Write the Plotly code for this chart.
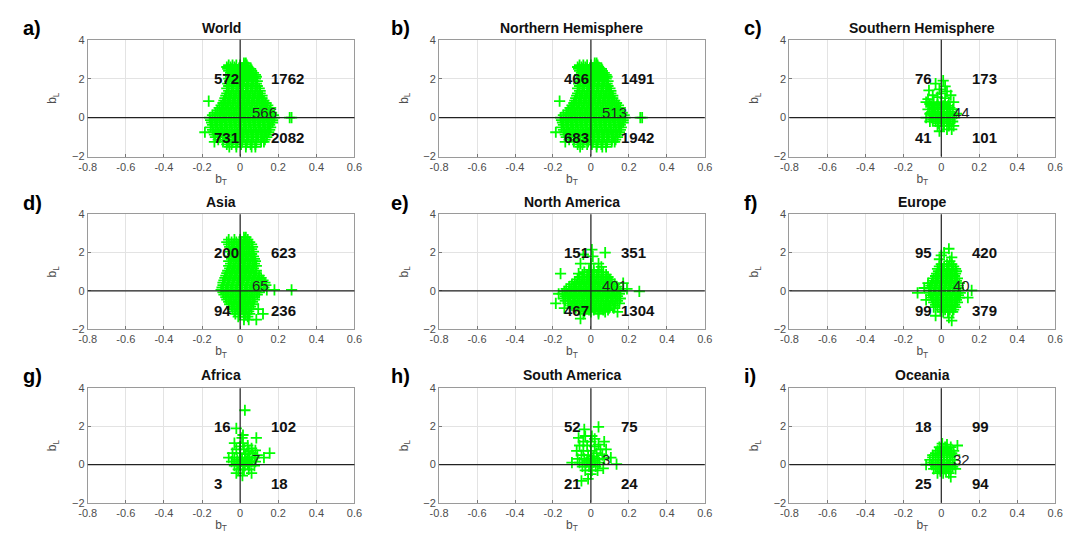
import plotly.graph_objects as go

# ---------------- data ----------------
regions = ["World", "Northern Hemisphere", "Southern Hemisphere",
           "Asia", "North America", "Europe",
           "Africa", "South America", "Oceania"]
letters = ["a)", "b)", "c)", "d)", "e)", "f)", "g)", "h)", "i)"]

# quadrant counts: [upper-left, upper-right, lower-left, lower-right, centre]
counts_world = [572, 1762, 731, 2082, 566]
counts_nh = [466, 1491, 683, 1942, 513]
counts_sh = [76, 173, 41, 101, 44]
counts_asia = [200, 623, 94, 236, 65]
counts_na = [151, 351, 467, 1304, 401]
counts_eu = [95, 420, 99, 379, 40]
counts_af = [16, 102, 3, 18, 7]
counts_sa = [52, 75, 21, 24, 3]
counts_oc = [18, 99, 25, 94, 32]

x_ticks = [-0.8, -0.6, -0.4, -0.2, 0, 0.2, 0.4, 0.6]
x_tick_text = ["-0.8", "-0.6", "-0.4", "-0.2", "0", "0.2", "0.4", "0.6"]
y_ticks = [-2, 0, 2, 4]

# scatter clouds: (b_L, [b_T values])
world_rows = [
    (2.8, [0.02, 0.03]),
    (2.7, [-0.06, -0.04, -0.02, 0.0, 0.02, 0.035]),
    (2.6, [-0.07, -0.05, -0.03, 0.0, 0.02, 0.04]),
    (2.5, [-0.065, -0.045, -0.025, -0.005, 0.015, 0.035, 0.055]),
    (2.4, [-0.06, -0.04, -0.02, 0.0, 0.02, 0.04, 0.06]),
    (2.3, [-0.05, -0.03, -0.01, 0.01, 0.03, 0.05, 0.07]),
    (2.2, [-0.06, -0.04, -0.02, 0.0, 0.02, 0.04, 0.06, 0.08]),
    (2.1, [-0.05, -0.03, -0.01, 0.01, 0.03, 0.05, 0.07, 0.085]),
    (2.0, [-0.06, -0.04, -0.02, 0.0, 0.02, 0.04, 0.06, 0.08]),
    (1.875, [-0.055, -0.03, -0.005, 0.02, 0.045, 0.07, 0.09]),
    (1.75, [-0.065, -0.04, -0.015, 0.01, 0.035, 0.06, 0.085]),
    (1.625, [-0.06, -0.035, -0.01, 0.015, 0.04, 0.065, 0.09]),
    (1.5, [-0.07, -0.045, -0.02, 0.005, 0.03, 0.055, 0.08, 0.1]),
    (1.375, [-0.06, -0.035, -0.01, 0.015, 0.04, 0.065, 0.09, 0.105]),
    (1.25, [-0.07, -0.045, -0.02, 0.005, 0.03, 0.055, 0.08, 0.105]),
    (1.125, [-0.075, -0.05, -0.025, 0.0, 0.025, 0.05, 0.075, 0.1, 0.115]),
    (1.0, [-0.08, -0.055, -0.03, -0.005, 0.02, 0.045, 0.07, 0.095, 0.115]),
    (0.875, [-0.085, -0.06, -0.035, -0.01, 0.015, 0.04, 0.065, 0.09, 0.115, 0.125]),
    (0.75, [-0.09, -0.065, -0.04, -0.015, 0.01, 0.035, 0.06, 0.085, 0.11, 0.135]),
    (0.625, [-0.1, -0.075, -0.05, -0.025, 0.0, 0.025, 0.05, 0.075, 0.1, 0.125, 0.145]),
    (0.5, [-0.11, -0.085, -0.06, -0.035, -0.01, 0.015, 0.04, 0.065, 0.09, 0.115, 0.14, 0.16]),
    (0.375, [-0.12, -0.095, -0.07, -0.045, -0.02, 0.005, 0.03, 0.055, 0.08, 0.105, 0.13, 0.155]),
    (0.25, [-0.13, -0.105, -0.08, -0.055, -0.03, -0.005, 0.02, 0.045, 0.07, 0.095, 0.12, 0.145, 0.165]),
    (0.125, [-0.145, -0.12, -0.095, -0.07, -0.045, -0.02, 0.005, 0.03, 0.055, 0.08, 0.105, 0.13, 0.155, 0.175]),
    (0.0, [-0.16, -0.135, -0.11, -0.085, -0.06, -0.035, -0.01, 0.015, 0.04, 0.065, 0.09, 0.115, 0.14, 0.165, 0.18, 0.26, 0.27]),
    (-0.125, [-0.155, -0.13, -0.105, -0.08, -0.055, -0.03, -0.005, 0.02, 0.045, 0.07, 0.095, 0.12, 0.145, 0.17]),
    (-0.25, [-0.15, -0.125, -0.1, -0.075, -0.05, -0.025, 0.0, 0.025, 0.05, 0.075, 0.1, 0.125, 0.15, 0.17]),
    (-0.375, [-0.145, -0.12, -0.095, -0.07, -0.045, -0.02, 0.005, 0.03, 0.055, 0.08, 0.105, 0.13, 0.155]),
    (-0.5, [-0.155, -0.13, -0.105, -0.08, -0.055, -0.03, -0.005, 0.02, 0.045, 0.07, 0.095, 0.12, 0.145, 0.16]),
    (-0.625, [-0.145, -0.12, -0.095, -0.07, -0.045, -0.02, 0.005, 0.03, 0.055, 0.08, 0.105, 0.13, 0.155]),
    (-0.75, [-0.185, -0.14, -0.115, -0.09, -0.065, -0.04, -0.015, 0.01, 0.035, 0.06, 0.085, 0.11, 0.135, 0.15]),
    (-0.875, [-0.135, -0.11, -0.085, -0.06, -0.035, -0.01, 0.015, 0.04, 0.065, 0.09, 0.115, 0.14]),
    (-1.0, [-0.13, -0.105, -0.08, -0.055, -0.03, -0.005, 0.02, 0.045, 0.07, 0.095, 0.12, 0.14]),
    (-1.125, [-0.115, -0.09, -0.065, -0.04, -0.015, 0.01, 0.035, 0.06, 0.085, 0.11, 0.13]),
    (-1.25, [-0.135, -0.09, -0.065, -0.04, -0.015, 0.01, 0.035, 0.06, 0.085, 0.11, 0.125]),
    (-1.375, [-0.07, -0.045, -0.02, 0.005, 0.03, 0.055, 0.08]),
    (-1.5, [-0.057, -0.02, 0.03, 0.06, 0.08]),
    (0.85, [-0.165]),
]

nh_rows = [
    (2.8, [0.02, 0.03]),
    (2.7, [-0.06, -0.04, -0.02, 0.0, 0.02, 0.035]),
    (2.6, [-0.07, -0.05, -0.03, 0.0, 0.02, 0.04]),
    (2.5, [-0.065, -0.045, -0.025, -0.005, 0.015, 0.035, 0.055]),
    (2.4, [-0.06, -0.04, -0.02, 0.0, 0.02, 0.04, 0.06]),
    (2.3, [-0.05, -0.03, -0.01, 0.01, 0.03, 0.05, 0.07]),
    (2.2, [-0.06, -0.04, -0.02, 0.0, 0.02, 0.04, 0.06, 0.08]),
    (2.1, [-0.05, -0.03, -0.01, 0.01, 0.03, 0.05, 0.07, 0.085]),
    (2.0, [-0.06, -0.04, -0.02, 0.0, 0.02, 0.04, 0.06, 0.08]),
    (1.875, [-0.055, -0.03, -0.005, 0.02, 0.045, 0.07, 0.09]),
    (1.75, [-0.065, -0.04, -0.015, 0.01, 0.035, 0.06, 0.085]),
    (1.625, [-0.06, -0.035, -0.01, 0.015, 0.04, 0.065, 0.09]),
    (1.5, [-0.07, -0.045, -0.02, 0.005, 0.03, 0.055, 0.08, 0.1]),
    (1.375, [-0.06, -0.035, -0.01, 0.015, 0.04, 0.065, 0.09, 0.105]),
    (1.25, [-0.07, -0.045, -0.02, 0.005, 0.03, 0.055, 0.08, 0.105]),
    (1.125, [-0.075, -0.05, -0.025, 0.0, 0.025, 0.05, 0.075, 0.1, 0.115]),
    (1.0, [-0.08, -0.055, -0.03, -0.005, 0.02, 0.045, 0.07, 0.095, 0.115]),
    (0.875, [-0.085, -0.06, -0.035, -0.01, 0.015, 0.04, 0.065, 0.09, 0.115, 0.125]),
    (0.75, [-0.09, -0.065, -0.04, -0.015, 0.01, 0.035, 0.06, 0.085, 0.11, 0.135]),
    (0.625, [-0.1, -0.075, -0.05, -0.025, 0.0, 0.025, 0.05, 0.075, 0.1, 0.125, 0.145]),
    (0.5, [-0.11, -0.085, -0.06, -0.035, -0.01, 0.015, 0.04, 0.065, 0.09, 0.115, 0.14, 0.155]),
    (0.375, [-0.12, -0.095, -0.07, -0.045, -0.02, 0.005, 0.03, 0.055, 0.08, 0.105, 0.13, 0.15]),
    (0.25, [-0.13, -0.105, -0.08, -0.055, -0.03, -0.005, 0.02, 0.045, 0.07, 0.095, 0.12, 0.145, 0.165]),
    (0.125, [-0.145, -0.12, -0.095, -0.07, -0.045, -0.02, 0.005, 0.03, 0.055, 0.08, 0.105, 0.13, 0.155, 0.175]),
    (0.0, [-0.16, -0.135, -0.11, -0.085, -0.06, -0.035, -0.01, 0.015, 0.04, 0.065, 0.09, 0.115, 0.14, 0.165, 0.18, 0.26, 0.27]),
    (-0.125, [-0.155, -0.13, -0.105, -0.08, -0.055, -0.03, -0.005, 0.02, 0.045, 0.07, 0.095, 0.12, 0.145, 0.17]),
    (-0.25, [-0.15, -0.125, -0.1, -0.075, -0.05, -0.025, 0.0, 0.025, 0.05, 0.075, 0.1, 0.125, 0.15, 0.17]),
    (-0.375, [-0.145, -0.12, -0.095, -0.07, -0.045, -0.02, 0.005, 0.03, 0.055, 0.08, 0.105, 0.13, 0.155]),
    (-0.5, [-0.155, -0.13, -0.105, -0.08, -0.055, -0.03, -0.005, 0.02, 0.045, 0.07, 0.095, 0.12, 0.145, 0.16]),
    (-0.625, [-0.145, -0.12, -0.095, -0.07, -0.045, -0.02, 0.005, 0.03, 0.055, 0.08, 0.105, 0.13, 0.155]),
    (-0.75, [-0.185, -0.14, -0.115, -0.09, -0.065, -0.04, -0.015, 0.01, 0.035, 0.06, 0.085, 0.11, 0.135, 0.15]),
    (-0.875, [-0.135, -0.11, -0.085, -0.06, -0.035, -0.01, 0.015, 0.04, 0.065, 0.09, 0.115, 0.14]),
    (-1.0, [-0.13, -0.105, -0.08, -0.055, -0.03, -0.005, 0.02, 0.045, 0.07, 0.095, 0.12, 0.14]),
    (-1.125, [-0.115, -0.09, -0.065, -0.04, -0.015, 0.01, 0.035, 0.06, 0.085, 0.11, 0.13]),
    (-1.25, [-0.135, -0.09, -0.065, -0.04, -0.015, 0.01, 0.035, 0.06, 0.085, 0.11, 0.125]),
    (-1.375, [-0.07, -0.045, -0.02, 0.005, 0.03, 0.055, 0.08]),
    (-1.5, [-0.057, 0.03, 0.06, 0.08]),
    (0.85, [-0.165]),
]

sh_rows = [
    (1.9, [0.01]), (1.75, [-0.03]), (1.6, [0.02]), (1.45, [-0.01]),
    (1.4, [-0.065]), (1.35, [0.03]), (1.25, [0.0]), (1.15, [-0.045, 0.05]),
    (1.05, [-0.02]), (1.0, [0.02]), (0.95, [-0.07]),
    (0.8, [-0.08, -0.04, 0.0, 0.04, 0.065]),
    (0.7, [-0.06, -0.02, 0.02]),
    (0.6, [-0.05, -0.02, 0.01, 0.035]),
    (0.5, [-0.04, 0.0, 0.045]),
    (0.42, [-0.07, -0.035, 0.0, 0.03, 0.06]),
    (0.3, [-0.05, -0.015, 0.015, 0.045]),
    (0.2, [-0.06, -0.03, 0.0, 0.03, 0.06, 0.08]),
    (0.1, [-0.045, -0.015, 0.015, 0.045]),
    (0.0, [-0.08, -0.05, -0.02, 0.01, 0.04, 0.07]),
    (-0.1, [-0.045, -0.015, 0.015, 0.045]),
    (-0.2, [-0.06, -0.03, 0.0, 0.03, 0.06]),
    (-0.3, [-0.015, 0.015, 0.045]),
    (-0.42, [-0.02, 0.01, 0.04, 0.065]),
    (-0.6, [0.03, 0.055]), (-0.7, [-0.01]),
]

asia_rows = [
    (2.8, [0.02, 0.03]),
    (2.675, [-0.06, -0.03, 0.0, 0.025, 0.04]),
    (2.55, [-0.07, -0.045, -0.02, 0.005, 0.03, 0.05]),
    (2.425, [-0.06, -0.035, -0.01, 0.015, 0.04, 0.06]),
    (2.3, [-0.055, -0.03, -0.005, 0.02, 0.045, 0.065]),
    (2.175, [-0.04, -0.015, 0.01, 0.035, 0.06]),
    (2.05, [-0.05, -0.025, 0.0, 0.025, 0.05, 0.07]),
    (1.925, [-0.04, -0.015, 0.01, 0.035, 0.06]),
    (1.8, [-0.055, -0.03, -0.005, 0.02, 0.045, 0.07]),
    (1.675, [-0.045, -0.02, 0.005, 0.03, 0.055, 0.075]),
    (1.55, [-0.06, -0.035, -0.01, 0.015, 0.04, 0.065, 0.08]),
    (1.425, [-0.05, -0.025, 0.0, 0.025, 0.05, 0.075]),
    (1.3, [-0.06, -0.035, -0.01, 0.015, 0.04, 0.065, 0.085]),
    (1.175, [-0.055, -0.03, -0.005, 0.02, 0.045, 0.07]),
    (1.05, [-0.065, -0.04, -0.015, 0.01, 0.035, 0.06, 0.085]),
    (0.925, [-0.07, -0.045, -0.02, 0.005, 0.03, 0.055, 0.08]),
    (0.8, [-0.075, -0.05, -0.025, 0.0, 0.025, 0.05, 0.075, 0.1]),
    (0.675, [-0.08, -0.055, -0.03, -0.005, 0.02, 0.045, 0.07, 0.095, 0.11]),
    (0.55, [-0.085, -0.06, -0.035, -0.01, 0.015, 0.04, 0.065, 0.09, 0.12]),
    (0.425, [-0.09, -0.065, -0.04, -0.015, 0.01, 0.035, 0.06, 0.085, 0.11, 0.13]),
    (0.3, [-0.09, -0.065, -0.04, -0.015, 0.01, 0.035, 0.06, 0.085, 0.11, 0.135]),
    (0.175, [-0.095, -0.07, -0.045, -0.02, 0.005, 0.03, 0.055, 0.08, 0.105, 0.125]),
    (0.05, [-0.1, -0.075, -0.05, -0.025, 0.0, 0.025, 0.05, 0.075, 0.1, 0.14, 0.18, 0.27]),
    (-0.075, [-0.09, -0.065, -0.04, -0.015, 0.01, 0.035, 0.06, 0.085, 0.1]),
    (-0.2, [-0.085, -0.06, -0.035, -0.01, 0.015, 0.04, 0.065, 0.09]),
    (-0.325, [-0.075, -0.05, -0.025, 0.0, 0.025, 0.05, 0.075]),
    (-0.45, [-0.07, -0.045, -0.02, 0.005, 0.03, 0.055, 0.075]),
    (-0.575, [-0.06, -0.035, -0.01, 0.015, 0.04, 0.065]),
    (-0.7, [-0.055, -0.03, -0.005, 0.02, 0.045, 0.07]),
    (-0.825, [-0.045, -0.02, 0.005, 0.03, 0.055]),
    (-0.95, [-0.04, -0.015, 0.01, 0.035, 0.06, 0.095]),
    (-1.075, [-0.03, -0.005, 0.02, 0.045]),
    (-1.2, [-0.025, 0.0, 0.03, 0.05, 0.12]),
    (-1.35, [-0.01, 0.02, 0.04]),
    (-1.5, [0.02, 0.045, 0.085]),
]

na_rows = [
    (2.15, [0.005]), (2.0, [0.075]), (1.9, [-0.04]), (1.8, [0.01]),
    (1.42, [-0.055, 0.0, 0.04]), (1.25, [0.055]),
    (1.1, [-0.01, 0.015, 0.04]),
    (0.975, [-0.035, -0.01, 0.015, 0.04, 0.065]),
    (0.9, [-0.065, -0.16]),
    (0.85, [-0.045, -0.02, 0.005, 0.03, 0.055, 0.08]),
    (0.725, [-0.06, -0.035, -0.01, 0.015, 0.04, 0.065, 0.09]),
    (0.6, [-0.07, -0.045, -0.02, 0.005, 0.03, 0.055, 0.08, 0.1]),
    (0.475, [-0.085, -0.06, -0.035, -0.01, 0.015, 0.04, 0.065, 0.09, 0.11]),
    (0.4, [0.17]),
    (0.35, [-0.1, -0.075, -0.05, -0.025, 0.0, 0.025, 0.05, 0.075, 0.1, 0.125]),
    (0.225, [-0.115, -0.09, -0.065, -0.04, -0.015, 0.01, 0.035, 0.06, 0.085, 0.11, 0.135]),
    (0.1, [-0.13, -0.105, -0.08, -0.055, -0.03, -0.005, 0.02, 0.045, 0.07, 0.095, 0.12, 0.145, 0.19]),
    (-0.025, [-0.14, -0.115, -0.09, -0.065, -0.04, -0.015, 0.01, 0.035, 0.06, 0.085, 0.11, 0.135, 0.155, 0.255]),
    (-0.15, [-0.17, -0.15, -0.125, -0.1, -0.075, -0.05, -0.025, 0.0, 0.025, 0.05, 0.075, 0.1, 0.125, 0.15]),
    (-0.275, [-0.135, -0.11, -0.085, -0.06, -0.035, -0.01, 0.015, 0.04, 0.065, 0.09, 0.115, 0.14]),
    (-0.4, [-0.145, -0.12, -0.095, -0.07, -0.045, -0.02, 0.005, 0.03, 0.055, 0.08, 0.105, 0.13, 0.155]),
    (-0.525, [-0.135, -0.11, -0.085, -0.06, -0.035, -0.01, 0.015, 0.04, 0.065, 0.09, 0.115, 0.14]),
    (-0.65, [-0.185, -0.12, -0.095, -0.07, -0.045, -0.02, 0.005, 0.03, 0.055, 0.08, 0.105, 0.13, 0.15]),
    (-0.775, [-0.1, -0.075, -0.05, -0.025, 0.0, 0.025, 0.05, 0.075, 0.1, 0.125]),
    (-0.9, [-0.14, -0.08, -0.055, -0.03, -0.005, 0.02, 0.045, 0.07, 0.095, 0.12]),
    (-1.0, [-0.06, -0.035, -0.01, 0.015, 0.04, 0.065, 0.09]),
    (-1.1, [-0.035, 0.0, 0.04, 0.075, 0.14]),
    (-1.2, [-0.04, 0.04]),
    (-1.45, [-0.055]),
]

eu_rows = [
    (2.2, [0.04]), (2.0, [0.015]), (1.85, [0.0]), (1.75, [0.055]),
    (1.65, [-0.01]), (1.55, [0.045]),
    (1.4, [0.0, 0.03, 0.055]),
    (1.275, [-0.01, 0.015, 0.04, 0.065]),
    (1.15, [-0.02, 0.005, 0.03, 0.055, 0.075]),
    (1.025, [-0.015, 0.01, 0.035, 0.06, 0.08]),
    (0.9, [-0.025, 0.0, 0.025, 0.05, 0.075]),
    (0.775, [-0.03, -0.005, 0.02, 0.045, 0.07]),
    (0.65, [-0.04, -0.015, 0.01, 0.035, 0.06, 0.085]),
    (0.525, [-0.045, -0.02, 0.005, 0.03, 0.055, 0.08]),
    (0.4, [-0.07, -0.05, -0.025, 0.0, 0.025, 0.05, 0.075, 0.095]),
    (0.275, [-0.055, -0.03, -0.005, 0.02, 0.045, 0.07, 0.09]),
    (0.15, [-0.09, -0.06, -0.035, -0.01, 0.015, 0.04, 0.065, 0.09]),
    (0.025, [-0.06, -0.035, -0.01, 0.015, 0.04, 0.065, 0.09, 0.16]),
    (-0.1, [-0.125, -0.065, -0.04, -0.015, 0.01, 0.035, 0.06, 0.085, 0.1]),
    (-0.225, [-0.055, -0.03, -0.005, 0.02, 0.045, 0.07, 0.09]),
    (-0.35, [-0.05, -0.025, 0.0, 0.025, 0.05, 0.075, 0.095, 0.14]),
    (-0.475, [-0.08, -0.045, -0.02, 0.005, 0.03, 0.055, 0.08]),
    (-0.6, [-0.04, -0.015, 0.01, 0.035, 0.06, 0.085]),
    (-0.725, [-0.03, -0.005, 0.02, 0.045, 0.07]),
    (-0.85, [-0.04, -0.02, 0.005, 0.03, 0.055, 0.075]),
    (-0.975, [-0.005, 0.02, 0.045, 0.065]),
    (-1.1, [0.01, 0.035, 0.06]),
    (-1.3, [-0.03]), (-1.4, [0.04]), (-1.55, [0.055]),
]

af_rows = [
    (2.85, [0.025]), (1.9, [-0.02]), (1.55, [0.015]), (1.4, [0.01, 0.085]),
    (1.12, [-0.03, 0.015]), (1.0, [0.04]), (0.95, [0.0]), (0.85, [0.06]),
    (0.8, [-0.02, 0.02]), (0.75, [0.08]), (0.7, [0.045]),
    (0.6, [-0.04, 0.0, 0.065, 0.155]), (0.55, [0.03]), (0.5, [0.09]),
    (0.36, [-0.06, -0.03, 0.0, 0.025, 0.05, 0.075, 0.125]),
    (0.25, [-0.015, 0.01, 0.04]),
    (0.15, [-0.045, -0.015, 0.01, 0.035, 0.06, 0.08]),
    (0.05, [-0.015, 0.015, 0.04]),
    (-0.05, [-0.03, 0.0, 0.025, 0.05, 0.075]),
    (-0.25, [-0.01, 0.02, 0.045]),
    (-0.45, [-0.02, 0.06]), (-0.58, [0.012]),
]

sa_rows = [
    (1.98, [0.04]), (1.85, [-0.035]), (1.5, [-0.03, 0.005]), (1.4, [-0.065]),
    (1.35, [0.02]), (1.2, [-0.04, 0.0, 0.07]), (1.05, [0.04]),
    (1.0, [-0.06, -0.02]), (0.95, [0.02]), (0.8, [0.05, 0.08]),
    (0.72, [-0.075, -0.04, 0.0]), (0.6, [0.03]),
    (0.5, [-0.05, -0.015, 0.06]), (0.4, [0.015]), (0.36, [0.105]),
    (0.3, [-0.07, -0.035, 0.0, 0.035, 0.07]),
    (0.2, [-0.02, 0.02]),
    (0.1, [-0.1, -0.06, -0.025, 0.01, 0.045]), (0.02, [0.135]),
    (-0.1, [-0.045, -0.01, 0.025]), (-0.2, [0.065]),
    (-0.3, [-0.03, 0.005, 0.035]), (-0.5, [0.0]),
    (-0.75, [-0.015]), (-0.85, [-0.05]),
]

oc_rows = [
    (1.1, [0.005]), (1.05, [0.03]), (1.0, [0.085]),
    (0.92, [-0.01, 0.02, 0.05]),
    (0.82, [0.0, 0.03]),
    (0.72, [-0.02, 0.01, 0.04, 0.065]),
    (0.6, [-0.03, 0.0, 0.03, 0.055]),
    (0.5, [-0.045, -0.015, 0.015, 0.045, 0.07]),
    (0.38, [-0.045, -0.015, 0.015, 0.045]),
    (0.25, [-0.06, -0.03, 0.0, 0.03, 0.06]),
    (0.12, [-0.045, -0.015, 0.015, 0.045]),
    (0.0, [-0.08, -0.05, -0.02, 0.01, 0.04, 0.07]),
    (-0.12, [-0.03, 0.0, 0.03, 0.06]),
    (-0.23, [-0.04, -0.01, 0.02, 0.05, 0.075]),
    (-0.35, [-0.005, 0.025]),
    (-0.45, [-0.02, 0.01, 0.04]),
    (-0.65, [0.05]),
]

panel_rows = [world_rows, nh_rows, sh_rows, asia_rows, na_rows, eu_rows,
              af_rows, sa_rows, oc_rows]
panel_counts = [counts_world, counts_nh, counts_sh, counts_asia, counts_na,
                counts_eu, counts_af, counts_sa, counts_oc]

# ---------------- layout ----------------
W, H = 1074, 540
col_px = [(80, 351), (437, 707), (793, 1063)]
row_px = [(34.5, 154), (213, 330.5), (391, 508)]
letter_x = [12, 386, 745]
title_y = [22, 200, 377]

FONT = "Liberation Sans, Arial, Helvetica, sans-serif"
GREEN = "#00ff00"

fig = go.Figure()
annotations = []
shapes = []

for i in range(9):
    r, c = divmod(i, 3)
    ax = "" if i == 0 else str(i + 1)
    xa, ya = "x" + ax, "y" + ax
    x0, x1 = col_px[c]
    y0, y1 = row_px[r]

    bT, bL = [], []
    for yv, xs in panel_rows[i]:
        for xv in xs:
            bT.append(xv)
            bL.append(yv)

    fig.add_trace(go.Scatter(
        x=bT, y=bL, mode="markers", xaxis=xa, yaxis=ya, showlegend=False,
        marker=dict(symbol="cross-thin", size=8, color=GREEN,
                    line=dict(color=GREEN, width=1.8)),
        hoverinfo="skip"))

    axis_common = dict(showgrid=True, gridcolor="#e3e3e3", gridwidth=1,
                       zeroline=False, showline=True, linecolor="#9a9a9a",
                       linewidth=1, mirror=True, ticks="inside", ticklen=3,
                       tickcolor="#777777",
                       tickfont=dict(family=FONT, size=11, color="#4d4d4d"))
    fig.layout["xaxis" + ax] = dict(
        axis_common, domain=[x0 / W, x1 / W], range=[-0.8, 0.6],
        tickvals=x_ticks, ticktext=x_tick_text, anchor=ya,
        title=dict(text="b<sub>T</sub>", standoff=2,
                   font=dict(family=FONT, size=12, color="#4d4d4d")))
    fig.layout["yaxis" + ax] = dict(
        axis_common, domain=[1 - y1 / H, 1 - y0 / H], range=[-2, 4],
        tickvals=y_ticks, anchor=xa,
        title=dict(text="b<sub>L</sub>", standoff=12,
                   font=dict(family=FONT, size=12, color="#4d4d4d")))

    # zero lines on top of the points
    shapes.append(dict(type="line", xref=xa, yref=ya + " domain", x0=0, x1=0,
                       y0=0, y1=1, line=dict(color="#222222", width=1.2),
                       layer="above"))
    shapes.append(dict(type="line", xref=xa + " domain", yref=ya, x0=0, x1=1,
                       y0=0, y1=0, line=dict(color="#222222", width=1.2),
                       layer="above"))

    cnt = panel_counts[i]
    quad_pos = [(-0.15, 2), (0.15, 2), (-0.15, -1), (0.15, -1)]
    for (qx, qy), val in zip(quad_pos, cnt[:4]):
        annotations.append(dict(
            x=qx, y=qy, xref=xa, yref=ya, text="<b>" + str(val) + "</b>",
            showarrow=False, xanchor="left", yanchor="middle",
            font=dict(family=FONT, size=15, color="#111111")))
    annotations.append(dict(
        x=0.05, y=0.27, xref=xa, yref=ya, text=str(cnt[4]), showarrow=False,
        xanchor="left", yanchor="middle",
        font=dict(family=FONT, size=15, color="#222222")))

    # title
    annotations.append(dict(
        x=(x0 + x1) / 2 / W, y=1 - title_y[r] / H, xref="paper", yref="paper",
        text="<b>" + regions[i] + "</b>", showarrow=False,
        xanchor="center", yanchor="middle",
        font=dict(family=FONT, size=14, color="#111111")))
    # panel letter
    annotations.append(dict(
        x=letter_x[c] / W, y=1 - (title_y[r] + 1) / H, xref="paper",
        yref="paper", text="<b>" + letters[i] + "</b>", showarrow=False,
        xanchor="left", yanchor="middle",
        font=dict(family=FONT, size=20, color="#000000")))

fig.update_layout(
    width=W, height=H, margin=dict(l=0, r=0, t=0, b=0),
    paper_bgcolor="white", plot_bgcolor="white",
    annotations=annotations, shapes=shapes,
    font=dict(family=FONT))

fig.write_html("out.html", config={"displayModeBar": False},
               post_script="document.body.style.margin='0';"
                           "document.body.style.padding='0';")
